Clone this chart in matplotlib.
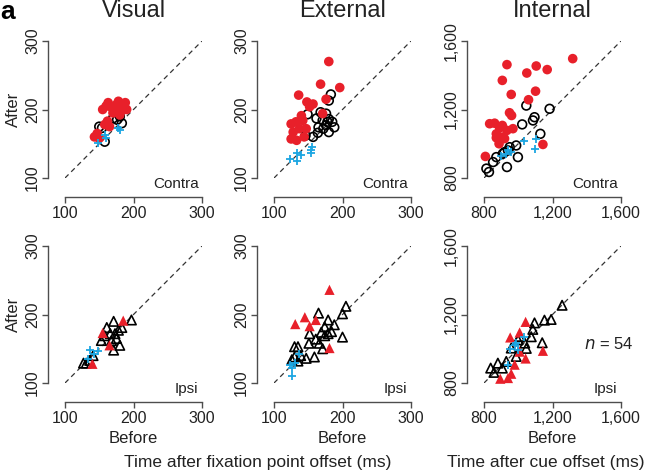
import matplotlib
matplotlib.use("Agg")
import matplotlib.pyplot as plt
from matplotlib.ticker import FixedLocator, FuncFormatter

plt.rcParams["font.family"] = ["Liberation Sans", "DejaVu Sans"]

RED = "#e8202a"
BLUE = "#1ca6e2"
AXC = "#4d4d4d"

# ---- Visual, contra (circles) ----
vis_c_red_x = [143, 147, 150, 158, 162, 165, 155, 160, 163, 168, 172, 175, 178, 182, 185, 188, 190, 180, 170]
vis_c_red_y = [160, 165, 158, 178, 183, 175, 200, 205, 210, 203, 200, 207, 212, 198, 205, 210, 200, 192, 195]
vis_c_blk_x = [154, 158, 183, 176, 180, 150, 170]
vis_c_blk_y = [173, 153, 180, 185, 190, 175, 187]
vis_c_blu_x = [148, 158, 160, 177, 180]
vis_c_blu_y = [151, 163, 158, 173, 170]

# ---- External, contra ----
ext_c_red_x = [180, 168, 196, 136, 176, 148, 157, 140, 132, 125, 147, 137, 128, 125, 133, 144, 171, 152, 142]
ext_c_red_y = [270, 237, 232, 221, 215, 211, 208, 191, 182, 179, 172, 172, 167, 157, 155, 160, 194, 204, 184]
ext_c_blk_x = [183, 180, 149, 168, 176, 162, 171, 178, 185, 165, 176, 188, 180, 164, 157, 146, 180, 172]
ext_c_blk_y = [222, 213, 193, 196, 194, 187, 184, 182, 182, 174, 177, 174, 167, 166, 160, 162, 186, 172]
ext_c_blu_x = [123, 134, 134, 140, 154, 156, 154]
ext_c_blu_y = [128, 125, 136, 133, 136, 145, 141]

# ---- Internal, contra ----
int_c_red_x = [1318, 934, 1105, 1050, 1169, 907, 959, 1101, 1060, 949, 961, 833, 862, 891, 907, 934, 969,
               872, 907, 888, 920, 1144, 808, 872]
int_c_red_y = [1497, 1462, 1454, 1413, 1433, 1370, 1288, 1307, 1257, 1181, 1165, 1117, 1120, 1093, 1107, 1078,
               1088, 1058, 1039, 1000, 1030, 996, 926, 1035]
int_c_blk_x = [1047, 1183, 1095, 1086, 1023, 1129, 988, 950, 920, 940, 872, 853, 814, 829, 934, 998, 910]
int_c_blk_y = [1223, 1204, 1155, 1136, 1113, 1058, 990, 980, 951, 961, 922, 893, 855, 835, 864, 922, 942]
int_c_blu_x = [1031, 1101, 1095, 940, 926, 901, 959]
int_c_blu_y = [1016, 1029, 971, 965, 940, 926, 950]

# ---- Visual, ipsi (triangles) ----
vis_i_blk_x = [197, 171, 183, 178, 166, 175, 180, 171, 158, 168, 136, 127, 131, 161, 173, 153, 141]
vis_i_blk_y = [192, 190, 181, 177, 172, 165, 155, 148, 169, 162, 133, 129, 129, 181, 172, 162, 140]
vis_i_red_x = [185, 155, 165, 140]
vis_i_red_y = [191, 173, 155, 128]
vis_i_blu_x = [137, 148, 134, 143]
vis_i_blu_y = [148, 146, 135, 142]

# ---- External, ipsi ----
ext_i_red_x = [181, 131, 145, 161, 152, 181]
ext_i_red_y = [236, 186, 196, 192, 183, 151]
ext_i_blk_x = [205, 200, 165, 179, 188, 174, 169, 179, 161, 151, 152, 135, 130, 171, 159, 147, 130, 126, 135,
               200, 166, 184, 174, 139]
ext_i_blk_y = [212, 201, 202, 192, 185, 182, 174, 172, 164, 158, 172, 153, 153, 150, 138, 136, 138, 134, 132,
               167, 158, 175, 169, 140]
ext_i_blu_x = [126, 126, 130, 137, 124]
ext_i_blu_y = [122, 110, 129, 142, 126]

# ---- Internal, ipsi ----
int_i_blk_x = [1256, 1192, 1153, 1095, 1085, 1076, 1140, 1047, 999, 959, 988, 930, 881, 839, 858, 907, 1008, 1038]
int_i_blk_y = [1254, 1171, 1167, 1151, 1113, 1070, 1035, 1002, 1052, 1004, 955, 926, 916, 887, 862, 887, 1072, 1033]
int_i_red_x = [1043, 1008, 953, 1144, 1043, 979, 959, 895, 940, 1008]
int_i_red_y = [1157, 1095, 1066, 988, 943, 907, 854, 825, 829, 983]
int_i_blu_x = [1031, 988, 949, 998, 940, 979]
int_i_blu_y = [1070, 1031, 996, 992, 907, 1021]

titles = ["Visual", "External", "Internal"]
fast_ticks = [100, 200, 300]
slow_ticks = [800, 1200, 1600]

fig = plt.figure(figsize=(6.46, 4.74), dpi=100)
lefts = [65 / 646, 274 / 646, 484 / 646]
bottoms = [1 - 178 / 474, 1 - 383 / 474]
W, H = 137 / 646, 137 / 474
TXT = "#222222"


def style(ax, ticks):
    lo, hi = ticks[0], ticks[-1]
    ax.set_xlim(lo, hi)
    ax.set_ylim(lo, hi)
    for s in ("top", "right"):
        ax.spines[s].set_visible(False)
    ax.spines["left"].set_position(("outward", 12))
    ax.spines["bottom"].set_position(("outward", 14))
    for s in ("left", "bottom"):
        ax.spines[s].set_bounds(lo, hi)
        ax.spines[s].set_color(AXC)
        ax.spines[s].set_linewidth(1.0)
    ax.xaxis.set_major_locator(FixedLocator(ticks))
    ax.yaxis.set_major_locator(FixedLocator(ticks))
    fmt = FuncFormatter(lambda v, p: f"{int(v):,}")
    ax.xaxis.set_major_formatter(fmt)
    ax.yaxis.set_major_formatter(fmt)
    ax.tick_params(direction="out", length=4, width=1.0, color=AXC,
                   labelsize=11.5, labelcolor=TXT, pad=2)
    for lab in ax.get_yticklabels():
        lab.set_rotation(90)
        lab.set_va("center")
    ax.plot([lo, hi], [lo, hi], ls=(0, (4, 3)), color="#333333", lw=0.9, zorder=1)


panels = [
    (0, 0, fast_ticks, "o", (vis_c_red_x, vis_c_red_y), (vis_c_blk_x, vis_c_blk_y), (vis_c_blu_x, vis_c_blu_y)),
    (0, 1, fast_ticks, "o", (ext_c_red_x, ext_c_red_y), (ext_c_blk_x, ext_c_blk_y), (ext_c_blu_x, ext_c_blu_y)),
    (0, 2, slow_ticks, "o", (int_c_red_x, int_c_red_y), (int_c_blk_x, int_c_blk_y), (int_c_blu_x, int_c_blu_y)),
    (1, 0, fast_ticks, "^", (vis_i_red_x, vis_i_red_y), (vis_i_blk_x, vis_i_blk_y), (vis_i_blu_x, vis_i_blu_y)),
    (1, 1, fast_ticks, "^", (ext_i_red_x, ext_i_red_y), (ext_i_blk_x, ext_i_blk_y), (ext_i_blu_x, ext_i_blu_y)),
    (1, 2, slow_ticks, "^", (int_i_red_x, int_i_red_y), (int_i_blk_x, int_i_blk_y), (int_i_blu_x, int_i_blu_y)),
]

for row, col, ticks, mk, red, blk, blu in panels:
    ax = fig.add_axes([lefts[col], bottoms[row], W, H])
    style(ax, ticks)
    size = 40 if mk == "o" else 46
    ax.scatter(blk[0], blk[1], s=size, marker=mk, facecolors="none", edgecolors="black",
               linewidths=1.2, zorder=3, clip_on=False)
    ax.scatter(red[0], red[1], s=size + 8, marker=mk, color=RED, edgecolors="none", zorder=4, clip_on=False)
    ax.scatter(blu[0], blu[1], s=38, marker="+", color=BLUE, linewidths=1.3, zorder=5, clip_on=False)
    ax.text(0.975, -0.045, "Contra" if row == 0 else "Ipsi", transform=ax.transAxes,
            ha="right", va="center", fontsize=11, color=TXT)
    if row == 0:
        ax.set_title(titles[col], fontsize=17, color=TXT, pad=17)
    if col == 0:
        ax.set_ylabel("After", fontsize=12, color=TXT, labelpad=3)
    if row == 1:
        ax.set_xlabel("Before", fontsize=12, color=TXT, labelpad=4)
    if row == 1 and col == 2:
        ax.text(1.09, 0.285, r"$n$ = 54", transform=ax.transAxes, ha="right", va="center",
                fontsize=12, color=TXT)

fig.text(0.0, 1.0, "a", fontsize=19, fontweight="bold", ha="left", va="top")
fig.text(258 / 646, 1 - 463 / 474, "Time after fixation point offset (ms)", fontsize=12.5,
         ha="center", va="center", color=TXT)
fig.text(546 / 646, 1 - 463 / 474, "Time after cue offset (ms)", fontsize=12.5,
         ha="center", va="center", color=TXT)

fig.savefig("out.png", dpi=100)
